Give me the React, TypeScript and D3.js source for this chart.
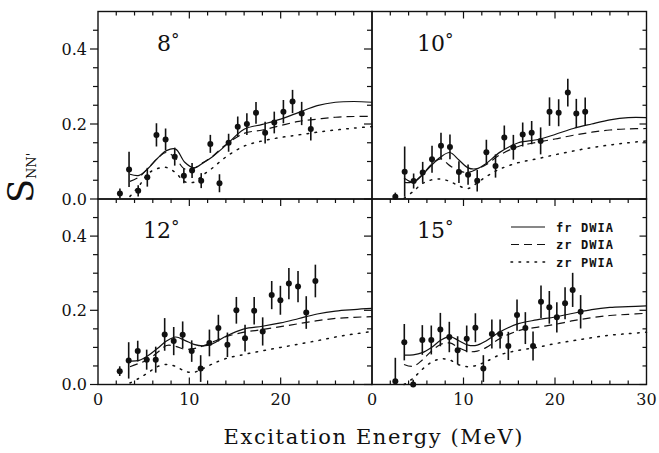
import React from 'react';
import * as d3 from 'd3';

// excitation energy grid used for the model curves (MeV)
const curveE = [3.5, 4.5, 5.5, 6.5, 7.5, 8.5, 9.5, 10.5, 11.5, 12.5, 14, 16, 18, 20, 22, 24, 26, 28, 30];

// 8 deg
const e8 = [2.4, 3.4, 4.4, 5.4, 6.4, 7.4, 8.4, 9.4, 10.3, 11.3, 12.3, 13.3, 14.3, 15.3, 16.3, 17.3, 18.3, 19.3, 20.3, 21.3, 22.3, 23.3];
const s8 = [0.015, 0.079, 0.022, 0.058, 0.171, 0.159, 0.113, 0.062, 0.076, 0.049, 0.147, 0.042, 0.15, 0.193, 0.2, 0.23, 0.177, 0.204, 0.233, 0.26, 0.228, 0.187];
const err8 = [0.013, 0.047, 0.015, 0.025, 0.031, 0.029, 0.024, 0.02, 0.02, 0.02, 0.024, 0.024, 0.024, 0.027, 0.029, 0.029, 0.029, 0.029, 0.031, 0.031, 0.031, 0.031];
const frDW8 = [0.066, 0.063, 0.082, 0.108, 0.129, 0.133, 0.098, 0.083, 0.096, 0.112, 0.143, 0.186, 0.199, 0.213, 0.231, 0.249, 0.258, 0.26, 0.258];
const zrDW8 = [0.047, 0.059, 0.082, 0.108, 0.124, 0.108, 0.08, 0.082, 0.097, 0.113, 0.145, 0.175, 0.184, 0.196, 0.207, 0.213, 0.218, 0.22, 0.22];
const zrPW8 = [0.007, 0.035, 0.068, 0.081, 0.084, 0.07, 0.046, 0.045, 0.064, 0.082, 0.112, 0.141, 0.155, 0.164, 0.171, 0.178, 0.184, 0.189, 0.193];

// 10 deg
const e10 = [2.55, 3.57, 4.55, 5.54, 6.56, 7.54, 8.52, 9.5, 10.5, 11.5, 12.5, 13.5, 14.46, 15.45, 16.47, 17.45, 18.43, 19.4, 20.4, 21.4, 22.33, 23.3];
const s10 = [0.006, 0.073, 0.048, 0.071, 0.106, 0.142, 0.139, 0.072, 0.065, 0.049, 0.125, 0.088, 0.164, 0.138, 0.172, 0.177, 0.155, 0.233, 0.23, 0.284, 0.228, 0.233];
const err10 = [0.011, 0.067, 0.02, 0.028, 0.036, 0.035, 0.033, 0.029, 0.027, 0.029, 0.033, 0.031, 0.032, 0.033, 0.032, 0.031, 0.036, 0.038, 0.036, 0.037, 0.039, 0.038];
const frDW10 = [0.056, 0.045, 0.064, 0.09, 0.112, 0.124, 0.104, 0.083, 0.081, 0.095, 0.125, 0.15, 0.158, 0.172, 0.188, 0.2, 0.211, 0.217, 0.217];
const zrDW10 = [0.044, 0.046, 0.065, 0.092, 0.107, 0.089, 0.075, 0.071, 0.08, 0.092, 0.118, 0.14, 0.151, 0.16, 0.17, 0.178, 0.184, 0.187, 0.188];
const zrPW10 = [0.002, 0.02, 0.041, 0.051, 0.053, 0.047, 0.035, 0.028, 0.043, 0.06, 0.08, 0.097, 0.107, 0.118, 0.128, 0.137, 0.144, 0.15, 0.155];

// 12 deg
const e12 = [2.38, 3.36, 4.35, 5.33, 6.32, 7.3, 8.29, 9.27, 10.26, 11.24, 12.2, 13.18, 14.17, 15.15, 16.1, 17.1, 18.03, 19.02, 19.97, 20.9, 21.9, 22.8, 23.8];
const s12 = [0.036, 0.065, 0.09, 0.067, 0.067, 0.135, 0.117, 0.134, 0.09, 0.043, 0.112, 0.152, 0.107, 0.2, 0.125, 0.199, 0.143, 0.241, 0.227, 0.272, 0.264, 0.194, 0.279];
const err12 = [0.013, 0.049, 0.028, 0.027, 0.035, 0.044, 0.038, 0.036, 0.029, 0.036, 0.036, 0.036, 0.033, 0.036, 0.036, 0.037, 0.038, 0.038, 0.039, 0.042, 0.042, 0.044, 0.044];
const frDW12 = [0.063, 0.065, 0.078, 0.097, 0.117, 0.128, 0.119, 0.108, 0.104, 0.109, 0.13, 0.15, 0.157, 0.166, 0.178, 0.19, 0.198, 0.202, 0.205];
const zrDW12 = [0.048, 0.057, 0.067, 0.086, 0.105, 0.103, 0.095, 0.097, 0.104, 0.114, 0.129, 0.141, 0.148, 0.156, 0.164, 0.172, 0.178, 0.181, 0.183];
const zrPW12 = [0.004, 0.017, 0.032, 0.048, 0.054, 0.049, 0.036, 0.033, 0.043, 0.055, 0.07, 0.081, 0.091, 0.1, 0.109, 0.118, 0.128, 0.136, 0.143];

// 15 deg
const e15 = [2.55, 3.53, 4.5, 5.5, 6.48, 7.47, 8.45, 9.36, 10.35, 11.3, 12.17, 13.1, 14.0, 14.9, 15.85, 16.76, 17.6, 18.47, 19.38, 20.2, 21.1, 21.93, 22.8];
const s15 = [0.009, 0.114, 0.0, 0.12, 0.12, 0.148, 0.128, 0.092, 0.123, 0.153, 0.043, 0.136, 0.136, 0.104, 0.187, 0.152, 0.104, 0.223, 0.208, 0.181, 0.219, 0.255, 0.196];
const err15 = [0.063, 0.049, 0.013, 0.04, 0.039, 0.045, 0.041, 0.038, 0.036, 0.039, 0.036, 0.039, 0.039, 0.038, 0.042, 0.043, 0.039, 0.044, 0.044, 0.041, 0.043, 0.046, 0.045];
const frDW15 = [0.079, 0.08, 0.086, 0.1, 0.119, 0.129, 0.118, 0.106, 0.106, 0.118, 0.142, 0.164, 0.174, 0.182, 0.192, 0.202, 0.208, 0.21, 0.212];
const zrDW15 = [0.054, 0.049, 0.066, 0.09, 0.108, 0.112, 0.099, 0.089, 0.09, 0.1, 0.124, 0.145, 0.154, 0.162, 0.172, 0.18, 0.186, 0.189, 0.192];
const zrPW15 = [0.0, 0.017, 0.041, 0.06, 0.069, 0.066, 0.053, 0.048, 0.052, 0.062, 0.08, 0.092, 0.1, 0.11, 0.118, 0.126, 0.133, 0.137, 0.141];

const xTickLabels = [0, 10, 20, 30];
const yTickLabels = [0, 0.2, 0.4];
const legendNames = ['fr DWIA', 'zr DWIA', 'zr PWIA'];

const panels = [
  { angle: '8', col: 0, row: 0, e: e8, s: s8, err: err8, curves: [frDW8, zrDW8, zrPW8] },
  { angle: '10', col: 1, row: 0, e: e10, s: s10, err: err10, curves: [frDW10, zrDW10, zrPW10] },
  { angle: '12', col: 0, row: 1, e: e12, s: s12, err: err12, curves: [frDW12, zrDW12, zrPW12] },
  { angle: '15', col: 1, row: 1, e: e15, s: s15, err: err15, curves: [frDW15, zrDW15, zrPW15] },
];

const colX = [98, 372, 646.5];
const rowY = [11.5, 199, 384.5];
const dashes = [null, '8,5', '1.6,6.4'];
const serif = 'DejaVu Serif, serif';

export default function App() {
  return (
    <svg width={659} height={453} style={{ position: 'absolute', left: 0, top: 0, background: '#fff' }}>
      {panels.map((p) => {
        const x = d3.scaleLinear().domain([0, 30]).range([colX[p.col], colX[p.col + 1]]);
        const y = d3.scaleLinear().domain([0, 0.5]).range([rowY[p.row + 1], rowY[p.row]]).clamp(true);
        const line = d3.line<number>()
          .curve(d3.curveCatmullRom.alpha(0.5))
          .x((_, i) => x(curveE[i]))
          .y((d) => y(d));
        const xMinor = d3.range(2, 29, 2);
        const yMinor = d3.range(0, 0.46, 0.05);
        const isMajorY = (v: number) => Math.abs(v * 10 - Math.round(v * 10)) < 1e-6 && Math.round(v * 10) % 2 === 0;
        return (
          <g key={p.angle}>
            <rect x={x(0)} y={y(0.5)} width={x(30) - x(0)} height={y(0) - y(0.5)} fill="none" stroke="#111" strokeWidth={1.4} />
            {/* top ticks, pointing down */}
            {xMinor.map((v) => (
              <line key={'t' + v} x1={x(v)} x2={x(v)} y1={y(0.5)} y2={y(0.5) + (v % 10 === 0 ? 7 : 4)} stroke="#111" strokeWidth={1.2} />
            ))}
            {/* bottom ticks, pointing up */}
            {p.row === 1 && xMinor.map((v) => (
              <line key={'b' + v} x1={x(v)} x2={x(v)} y1={y(0)} y2={y(0) - (v % 10 === 0 ? 7 : 4)} stroke="#111" strokeWidth={1.2} />
            ))}
            {/* left ticks, pointing left */}
            {yMinor.map((v) => (
              <line key={'l' + v} x1={x(0)} x2={x(0) - (isMajorY(v) ? 8 : 5)} y1={y(v)} y2={y(v)} stroke="#111" strokeWidth={1.2} />
            ))}
            {p.col === 1 && yMinor.map((v) => (
              <line key={'r' + v} x1={x(30)} x2={x(30) - (isMajorY(v) ? 7 : 4)} y1={y(v)} y2={y(v)} stroke="#111" strokeWidth={1.2} />
            ))}
            {p.col === 0 && yTickLabels.map((v) => (
              <text key={'yl' + v} x={x(0) - 11} y={y(v) + 5.5} textAnchor="end" fontFamily={serif} fontSize={16} fill="#111">
                {v.toFixed(1)}
              </text>
            ))}
            {p.row === 1 && xTickLabels.filter((v) => p.col === 1 || v < 30).map((v) => (
              <text key={'xl' + v} x={x(v)} y={405} textAnchor="middle" fontFamily={serif} fontSize={16} fill="#111">
                {v}
              </text>
            ))}
            {/* model curves */}
            {p.curves.map((c, i) => (
              <path key={'c' + i} d={line(c) || ''} fill="none" stroke="#111" strokeWidth={i === 2 ? 1.5 : 1.2}
                strokeDasharray={dashes[i] || undefined} strokeLinecap={i === 2 ? 'round' : 'butt'} />
            ))}
            {/* data with error bars */}
            {p.e.map((ev, i) => (
              <g key={'d' + i}>
                <line x1={x(ev)} x2={x(ev)} y1={y(p.s[i] - p.err[i])} y2={y(p.s[i] + p.err[i])} stroke="#111" strokeWidth={1.6} />
                <circle cx={x(ev)} cy={y(p.s[i])} r={3} fill="#111" />
              </g>
            ))}
            <text x={x(0) + 73} y={y(0.5) + 39} textAnchor="end" fontFamily={serif} fontSize={22} fill="#111">{p.angle}</text>
            <text x={x(0) + 73} y={y(0.5) + 33} fontFamily={serif} fontSize={17} fill="#111">°</text>
          </g>
        );
      })}
      {/* legend in the 15 deg panel */}
      {legendNames.map((name, i) => (
        <g key={name}>
          <line x1={511} x2={545} y1={227 + i * 17.5} y2={227 + i * 17.5} stroke="#111" strokeWidth={i === 2 ? 1.5 : 1.2}
            strokeDasharray={dashes[i] || undefined} strokeLinecap={i === 2 ? 'round' : 'butt'} />
          <text x={556} y={231.5 + i * 17.5} fontFamily="DejaVu Sans Mono, monospace" fontWeight="bold" fontSize={12}
            textLength={57} lengthAdjust="spacing" fill="#111">{name}</text>
        </g>
      ))}
      <text x={373} y={444} textAnchor="middle" fontFamily={serif} fontSize={21} textLength={299} lengthAdjust="spacing" fill="#111">
        Excitation Energy (MeV)
      </text>
      <text transform="translate(33,203) rotate(-90)" fontFamily={serif} fontSize={35} fill="#111">
        S<tspan fontSize={13} dy={3}>NN'</tspan>
      </text>
    </svg>
  );
}
